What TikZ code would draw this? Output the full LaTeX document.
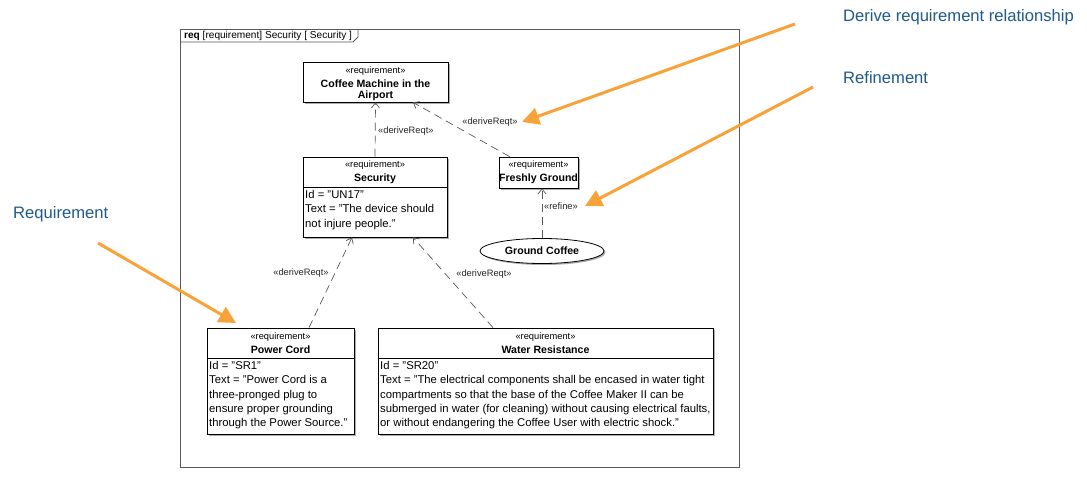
\documentclass[tikz,border=0pt]{standalone}
\usepackage{fontspec}
\setmainfont{Liberation Sans}
\usetikzlibrary{arrows.meta,shapes.geometric,shadows,calc}
\definecolor{annot}{RGB}{31,90,140}
\definecolor{orng}{RGB}{248,163,58}
\definecolor{conn}{RGB}{90,90,90}
\begin{document}
\begin{tikzpicture}[x=1pt,y=-1pt,
  reqbox/.style={draw=black, line width=0.8pt, fill=white, inner sep=0pt,
    drop shadow={shadow xshift=2pt, shadow yshift=-2pt, fill=black!40, opacity=0.8}},
  stereo/.style={font=\fontsize{9.3}{11}\selectfont, inner sep=0pt},
  title/.style={font=\fontsize{10.6}{12}\selectfont\bfseries, inner sep=0pt, align=center},
  body/.style={font=\fontsize{11.3}{14.1}\selectfont, inner sep=0pt, align=left, anchor=north west},
  rel/.style={font=\fontsize{9.3}{11}\selectfont, inner sep=0pt, text=black!85},
  dep/.style={draw=conn, line width=0.7pt, dash pattern=on 8pt off 5pt, -{Straight Barb[length=5pt,width=8pt]}},
  note/.style={font=\fontsize{16.6}{19}\selectfont, text=annot, inner sep=0pt, anchor=west},
  callout/.style={draw=orng, line width=3pt, -{Triangle[length=17pt,width=17pt]}}
]
\useasboundingbox (0,0) rectangle (1087,479);
\fill[white] (0,0) rectangle (1087,479);

% frame
\draw[draw=black!65, line width=0.8pt] (180,29) rectangle (739,467);
\draw[draw=black!65, line width=0.8pt] (180,42) -- (353,42) -- (358,37) -- (358,29);
\node[inner sep=0pt, anchor=west, font=\fontsize{10.1}{11}\selectfont] (frametitle) at (184,36)
  {\textbf{req} [requirement] Security [ Security ]};

% Coffee Machine in the Airport
\node[reqbox, minimum width=145pt, minimum height=40pt] (cm) at (375.5,82) {};
\node[stereo] (cmst) at (375.5,71) {«requirement»};
\node[title] (cmti) at (375.5,90.5) {Coffee Machine in the\\[-1.2pt]Airport};

% Security
\node[reqbox, minimum width=144pt, minimum height=80pt] (sec) at (375,197) {};
\node[stereo] (secst) at (375,165) {«requirement»};
\node[title] (secti) at (375,178.5) {Security};
\draw[line width=0.8pt] (sec.west |- 0,187) -- (sec.east |- 0,187);
\node[body] (secbd) at (305,190.5) {Id = "UN17"\\Text = "The device should\\not injure people."};

% Freshly Ground
\node[reqbox, minimum width=79pt, minimum height=31pt] (fg) at (538.5,172.5) {};
\node[stereo] (fgst) at (538.5,165) {«requirement»};
\node[title] (fgti) at (538.5,178.5) {Freshly Ground};

% Ground Coffee
\node[draw=black, line width=0.8pt, fill=white, ellipse, minimum width=124pt, minimum height=25pt, inner sep=0pt,
  drop shadow={shadow xshift=1.5pt, shadow yshift=-1.5pt, fill=black!40, opacity=0.8},
  font=\fontsize{10.6}{12}\selectfont\bfseries] (gc) at (542,251) {Ground Coffee};

% Power Cord
\node[reqbox, minimum width=147pt, minimum height=106pt] (pc) at (280.5,381) {};
\node[stereo] (pcst) at (280.5,337) {«requirement»};
\node[title] (pcti) at (280.5,349.5) {Power Cord};
\draw[line width=0.8pt] (pc.west |- 0,358) -- (pc.east |- 0,358);
\node[body] (pcbd) at (209,361.5) {Id = "SR1"\\Text = "Power Cord is a\\three-pronged plug to\\ensure proper grounding\\through the Power Source."};

% Water Resistance
\node[reqbox, minimum width=335pt, minimum height=106pt] (wr) at (545.5,381) {};
\node[stereo] (wrst) at (545.5,337) {«requirement»};
\node[title] (wrti) at (545.5,349.5) {Water Resistance};
\draw[line width=0.8pt] (wr.west |- 0,358) -- (wr.east |- 0,358);
\node[body] (wrbd) at (380,361.5) {Id = "SR20"\\Text = "The electrical components shall be encased in water tight\\compartments so that the base of the Coffee Maker II can be\\submerged in water (for cleaning) without causing electrical faults,\\or without endangering the Coffee User with electric shock."};

% relationships
\draw[dep] (sec.north) -- (cm.south);
\draw[dep] ($(fg.north west)+(11,0)$) -- ($(cm.south)+(37.5,0)$);
\draw[dep] (gc.north) -- (gc.north |- fg.south);
\draw[dep] ($(pc.north)+(28.5,0)$) -- ($(sec.south)+(-23,0)$);
\draw[dep] ($(wr.north)+(-52.5,0)$) -- ($(sec.south)+(38,0)$);

\node[rel, anchor=west] (l1) at (378,131) {«deriveReqt»};
\node[rel] (l2) at (490,122) {«deriveReqt»};
\node[rel] (l3) at (561,206) {«refine»};
\node[rel] (l4) at (301,273) {«deriveReqt»};
\node[rel] (l5) at (484,274) {«deriveReqt»};

% annotations
\node[note] (n1) at (843,17) {Derive requirement relationship};
\node[note] (n2) at (843,78) {Refinement};
\node[note] (n3) at (13,214) {Requirement};
\coordinate (s1) at (795,24);
\coordinate (t1) at (522,122);
\coordinate (s2) at (813,87);
\coordinate (t2) at (585,206);
\coordinate (s3) at (98,243);
\coordinate (t3) at (236,323);
\draw[callout] (s1) -- (t1);
\draw[callout] (s2) -- (t2);
\draw[callout] (s3) -- (t3);
\end{tikzpicture}
\end{document}
